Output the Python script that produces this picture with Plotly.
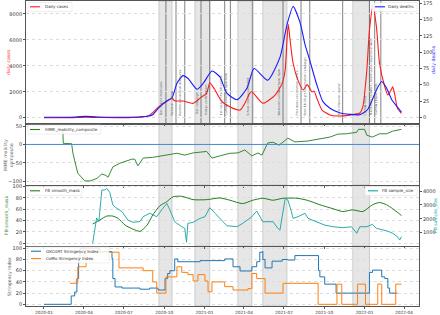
import plotly.graph_objects as go
from plotly.subplots import make_subplots

# ---------------- data ----------------
cases_dates = ['2020-01-01','2020-03-01','2020-04-05','2020-05-10','2020-07-15','2020-08-14','2020-08-29',
 '2020-09-19','2020-10-07','2020-10-19','2020-10-25','2020-11-13','2020-12-06','2020-12-24','2021-01-06',
 '2021-01-13','2021-01-20','2021-01-25','2021-02-10','2021-03-07','2021-03-23','2021-04-03','2021-04-14',
 '2021-04-19','2021-05-14','2021-06-11','2021-06-27','2021-07-04','2021-07-08','2021-07-11','2021-07-15',
 '2021-07-22','2021-08-02','2021-08-14','2021-08-23','2021-09-03','2021-09-08','2021-09-14','2021-09-26',
 '2021-10-14','2021-11-01','2021-11-28','2021-12-21','2021-12-28','2022-01-06','2022-01-12','2022-01-20',
 '2022-01-28','2022-02-04','2022-02-16','2022-02-23','2022-03-04','2022-03-06','2022-03-10','2022-03-17',
 '2022-03-26']
cases = [0,5,40,15,10,50,200,850,1290,1500,1300,1290,1110,1570,1900,2700,2400,2140,1230,720,590,1110,1880,
 2000,1110,1750,2650,3700,6000,7200,6000,4200,2900,2140,2550,2000,2050,1500,590,210,130,200,360,850,3650,
 6740,8600,7020,4200,2390,1750,2260,2390,1900,720,330]

deaths_dates = ['2020-01-01','2020-03-15','2020-04-05','2020-05-01','2020-08-01','2020-08-23','2020-09-05',
 '2020-09-19','2020-10-07','2020-10-19','2020-10-30','2020-11-13','2020-11-24','2020-12-15','2020-12-29',
 '2021-01-18','2021-02-05','2021-02-21','2021-03-16','2021-04-08','2021-04-24','2021-05-25','2021-06-22',
 '2021-07-08','2021-07-22','2021-08-07','2021-08-18','2021-08-27','2021-09-14','2021-09-28','2021-10-14',
 '2021-11-05','2021-11-28','2021-12-21','2022-01-08','2022-01-28','2022-02-09','2022-02-20','2022-03-04',
 '2022-03-26']
deaths = [0,0.5,1.5,0.5,0.5,1.5,4,15,25,30,52,64,60,43,52,71,62,37,27,45,75,57,92,142,170,145,112,92,50,24,
 14,7,4.5,4,12,42,55,45,27,8]

mob_dates = ['2020-02-06','2020-02-13','2020-02-14','2020-03-04','2020-03-07','2020-03-18','2020-04-03',
 '2020-04-15','2020-05-01','2020-05-12','2020-05-21','2020-05-26','2020-06-06','2020-06-22','2020-07-19',
 '2020-07-26','2020-08-02','2020-08-14','2020-09-05','2020-10-07','2020-10-30','2020-11-17','2020-12-06',
 '2021-01-06','2021-01-18','2021-02-05','2021-02-28','2021-03-18','2021-04-03','2021-04-19','2021-05-03',
 '2021-05-12','2021-05-25','2021-06-06','2021-06-20','2021-07-10','2021-07-26','2021-08-23','2021-09-14',
 '2021-10-14','2021-11-01','2021-11-21','2021-12-14','2021-12-18','2022-01-01','2022-01-06','2022-01-19',
 '2022-02-04','2022-02-20','2022-03-06','2022-03-26']
mobility = [40,40,3,2,-24,-78,-99,-99,-92,-80,-84,-89,-61,-51,-40,-40,-58,-37,-35,-29,-24,-29,-23,-19,-37,
 -31,-24,-23,-15,-31,-23,-29,4,6,-2,17,7,9,14,20,28,29,33,41,41,25,20,29,29,36,41]

mask_dates = ['2020-04-21','2020-05-07','2020-05-23','2020-06-06','2020-06-18','2020-07-04','2020-07-22',
 '2020-08-07','2020-08-23','2020-09-05','2020-09-21','2020-10-07','2020-10-21','2020-11-10','2020-12-06',
 '2021-01-06','2021-02-05','2021-02-28','2021-03-29','2021-04-21','2021-05-14','2021-06-06','2021-06-29',
 '2021-07-31','2021-08-23','2021-09-21','2021-10-21','2021-11-12','2021-12-05','2021-12-28','2022-01-19',
 '2022-02-04','2022-02-20','2022-03-06','2022-03-26']
mask = [34,41,48,48,44,32,25,21,32,50,66,73.5,82,83,77,77,80,76,70,76,79.5,76,79.5,79.5,76,68,61,56,59,56,
 68,72,68,61,49]

ss_dates = ['2020-04-21','2020-04-30','2020-05-05','2020-05-12','2020-05-19','2020-05-23','2020-05-30',
 '2020-06-06','2020-06-15','2020-06-27','2020-07-10','2020-07-22','2020-08-07','2020-08-14','2020-08-29',
 '2020-09-14','2020-09-28','2020-10-07','2020-10-14','2020-10-25','2020-11-10','2020-11-17','2020-11-21',
 '2020-11-24','2020-12-06','2020-12-22','2021-01-02','2021-01-13','2021-01-25','2021-02-05','2021-02-21',
 '2021-03-16','2021-03-29','2021-04-19','2021-04-30','2021-05-14','2021-06-06','2021-06-17','2021-06-22',
 '2021-07-04','2021-07-10','2021-07-17','2021-07-22','2021-08-02','2021-08-18','2021-08-25','2021-09-14',
 '2021-10-02','2021-10-21','2021-11-12','2021-12-02','2021-12-14','2021-12-21','2022-01-06','2022-01-19',
 '2022-01-28','2022-02-20','2022-03-06','2022-03-17','2022-03-22','2022-03-26']
sample_size = [240,2060,1800,4070,4070,4190,3900,2990,2750,2510,1910,1750,1800,2150,2400,2150,2750,3110,
 2640,1790,1430,1310,310,1670,1750,2030,2150,2800,2400,2030,1500,1430,1670,2150,2560,1790,1790,1320,1190,
 3470,3350,2630,2030,2150,2400,2030,1790,1550,1430,1360,1430,960,1430,1430,1600,1310,1140,960,710,475,710]

ox_dates = ['2020-01-01','2020-03-03','2020-03-11','2020-03-16','2020-03-20','2020-03-23','2020-05-07',
 '2020-06-04','2020-06-06','2020-06-11','2020-06-27','2020-08-07','2020-08-29','2020-09-17','2020-10-03',
 '2020-10-09','2020-10-14','2020-10-25','2020-11-01','2020-12-22','2021-02-16','2021-03-07','2021-03-23',
 '2021-04-19','2021-04-30','2021-05-07','2021-05-12','2021-05-14','2021-05-19','2021-06-04','2021-06-27',
 '2021-07-10','2021-07-26','2021-09-18','2021-09-21','2021-10-02','2021-10-28','2022-01-12','2022-01-19',
 '2022-02-09','2022-02-16','2022-02-23','2022-02-27','2022-03-17']
oxcgrt = [0,15,22,46,82,100,94,82,46,31,29,27,29,25.5,46,55,60,81,76,78,81,67,59.5,67,76,93,94,80,65,77,80,
 79,87,60,49,36,20,57,61,49,46,29,20,20]

como_dates = ['2020-02-29','2020-03-18','2020-04-06','2020-05-03','2020-06-20','2020-08-14','2020-09-05',
 '2020-09-14','2020-10-05','2020-10-30','2020-11-10','2020-11-24','2020-12-06','2020-12-17','2021-01-02',
 '2021-01-09','2021-01-18','2021-02-16','2021-03-07','2021-04-10','2021-04-19','2021-04-30','2021-05-19',
 '2021-06-29','2021-09-17','2021-10-30','2021-11-10','2021-12-16','2022-01-03','2022-01-31','2022-02-09',
 '2022-03-13','2022-03-26']
como = [37.5,67,100,93,65,60,40,20,49,67,57,53,41.6,53,41.6,22.5,40,31.5,25.5,28,55,46,20,37.5,0,36,0,36,0,
 36,0,36,36]

shade_starts = ['2020-09-19','2020-12-10','2021-03-18','2021-05-14','2021-12-05']
shade_ends = ['2020-10-19','2021-01-13','2021-04-19','2021-07-08','2022-01-12']

event_dates = ['2020-10-05','2020-10-28','2020-11-17','2020-12-24','2021-01-13','2021-02-16','2021-03-01',
 '2021-04-21','2021-06-29','2021-08-09','2021-08-29','2021-11-12','2022-01-12','2022-01-24','2022-02-07']
event_labels = ['Bar closure measures','National curfew','Reinforced national measures','Test campaign',
 '4 days confinement','1st case of the UK variant','Curfew extended 6pm-6am','School closure extended',
 'Weekend curfew at 1pm, 6pm','First mass vaccination centre','Start 18-39 yrs vaccination campaign',
 'First Omicron cluster','Curfew lifted','Mandatory telework, health pass required at work',
 'Curfew (10pm) ends']

# ---------------- layout helpers ----------------
W, H = 440, 315
L, R = 26, 419
def fx(p): return p / W
def fy(p): return 1 - p / H
panels = [(1, 123.5), (123.5, 185), (185.5, 246), (246.5, 306)]
FONT = "DejaVu Sans"
RED, BLUE, GREEN, TEAL = '#ff1a1a', '#1a1aff', '#1f7f1f', '#18a0a0'
OXC, COMO = '#1f77b4', '#ff7f0e'

fig = make_subplots(rows=4, cols=1, shared_xaxes=True, vertical_spacing=0,
                    specs=[[{"secondary_y": True}], [{}], [{"secondary_y": True}], [{}]])

fig.add_trace(go.Scatter(x=cases_dates, y=cases, mode='lines', name='Daily cases',
                         line=dict(color=RED, width=1.1, shape='spline', smoothing=0.6)), row=1, col=1, secondary_y=False)
fig.add_trace(go.Scatter(x=deaths_dates, y=deaths, mode='lines', name='Daily deaths',
                         line=dict(color=BLUE, width=1.1, shape='spline', smoothing=0.6)), row=1, col=1, secondary_y=True)
fig.add_trace(go.Scatter(x=mob_dates, y=mobility, mode='lines', name='IHME_mobility_composite',
                         line=dict(color=GREEN, width=0.9)), row=2, col=1)
fig.add_trace(go.Scatter(x=mask_dates, y=mask, mode='lines', name='FB smooth_mask',
                         line=dict(color=GREEN, width=1.0, shape='spline', smoothing=0.6)), row=3, col=1, secondary_y=False)
fig.add_trace(go.Scatter(x=ss_dates, y=sample_size, mode='lines', name='FB sample_size',
                         line=dict(color=TEAL, width=0.9)), row=3, col=1, secondary_y=True)
fig.add_trace(go.Scatter(x=ox_dates, y=oxcgrt, mode='lines', name='OXCGRT Stringency Index',
                         line=dict(color=OXC, width=1.0, shape='hv')), row=4, col=1)
fig.add_trace(go.Scatter(x=como_dates, y=como, mode='lines', name='CoMo Stringency Index',
                         line=dict(color=COMO, width=1.0, shape='hv')), row=4, col=1)

xr = ['2019-11-21', '2022-05-05']
for r in range(1, 5):
    fig.update_xaxes(row=r, col=1, domain=[fx(L), fx(R)], range=xr, showline=True, mirror=True,
                     linecolor='#555', linewidth=0.8, showgrid=False, zeroline=False, automargin=False,
                     ticks='outside', ticklen=2, tickcolor='#555', tickwidth=0.6,
                     dtick='M3', tick0='2020-01-01', tickformat='%Y-%m', showticklabels=(r == 4),
                     tickfont=dict(size=4.3, color='#333', family=FONT))
    t, b = panels[r - 1]
    fig.update_yaxes(row=r, col=1, secondary_y=False, domain=[fy(b), fy(t)])

ycommon = dict(showline=True, linecolor='#555', linewidth=0.8, zeroline=False, ticks='outside', ticklen=2,
               automargin=False, tickcolor='#555', tickwidth=0.6,
               tickfont=dict(size=5, color='#333', family=FONT))
grid = dict(showgrid=True, gridcolor='#dcdcdc', griddash='dot', gridwidth=0.6)
fig.update_yaxes(row=1, col=1, secondary_y=False, range=[-447, 9002], tickvals=[0, 2000, 4000, 6000, 8000],
                 mirror=True, **ycommon, **grid)
fig.update_yaxes(row=1, col=1, secondary_y=True, range=[-9.5, 178.5], tickvals=list(range(0, 176, 25)),
                 showgrid=False, **ycommon)
fig.update_yaxes(row=2, col=1, range=[-110, 56.8], tickvals=[-100, -50, 0, 50], mirror=True, **ycommon, **grid)
fig.update_yaxes(row=3, col=1, secondary_y=False, range=[-4.8, 102], tickvals=[0, 20, 40, 60, 80, 100],
                 mirror=True, **ycommon, **grid)
fig.update_yaxes(row=3, col=1, secondary_y=True, range=[42, 4396], tickvals=[1000, 2000, 3000, 4000],
                 showgrid=False, **ycommon)
fig.update_yaxes(row=4, col=1, range=[-3.0, 103.2], tickvals=[0, 20, 40, 60, 80, 100], mirror=True,
                 **ycommon, **grid)

# shading in every panel
shapes = []
panel_refs = [('x', 'y domain'), ('x2', 'y3 domain'), ('x3', 'y4 domain'), ('x4', 'y6 domain')]
for xref, yref in panel_refs:
    for s, e in zip(shade_starts, shade_ends):
        shapes.append(dict(type='rect', xref=xref, yref=yref, x0=s, x1=e, y0=0, y1=1, layer='below',
                           fillcolor='#e6e6e6', line=dict(color='#b5b5b5', width=0.6)))
# event lines in top panel
for d in event_dates:
    shapes.append(dict(type='line', xref='x', yref='y domain', x0=d, x1=d, y0=0, y1=1, layer='below',
                       line=dict(color='#4a4a4a', width=0.7)))
# zero line in mobility panel
shapes.append(dict(type='line', xref='x2 domain', yref='y3', x0=0, x1=1, y0=0, y1=0,
                   line=dict(color='#3c8fd4', width=1)))

ann = []
for d, lab in zip(event_dates, event_labels):
    ann.append(dict(x=d, y=0.05, xref='x', yref='y domain', text=lab, textangle=-90, showarrow=False,
                    xanchor='right', yanchor='bottom', xshift=-0.3,
                    font=dict(size=3.1, color='#555', family=FONT)))
titles = [
    ('daily cases', 9, 62, '#ff3b3b'),
    ('daily deaths', 433, 60, '#2a2aff'),
    ('IHME mobility<br>composite', 8, 155, '#555'),
    ('FB smooth_mask', 7, 216, '#2e8b2e'),
    ('FB sample_size', 436, 216, '#20b0b0'),
    ('Stringency Index', 9, 277, '#555'),
]
for txt, px, py, col in titles:
    ann.append(dict(x=fx(px), y=fy(py), xref='paper', yref='paper', text=txt, textangle=-90,
                    showarrow=False, xanchor='center', yanchor='middle',
                    font=dict(size=4.6, color=col, family=FONT)))

# hand-made compact legends (box, key line, label) in pixel positions
LF = 4.1
legend_boxes = [(28, 2.5, 72, 11.5), (372, 2.5, 417, 11.5), (28, 125, 101, 134),
                (28, 186.5, 82, 195.5), (365, 186.5, 417, 195.5), (28, 247, 109, 263)]
# (key x0, key x1, y, label, colour, text anchor side)
legend_items = [(30, 40, 6.8, 'Daily cases', RED, 'left'), (375, 385, 6.8, 'Daily deaths', BLUE, 'right'),
                (30, 40, 129.5, 'IHME_mobility_composite', GREEN, 'left'),
                (30, 40, 190.8, 'FB smooth_mask', GREEN, 'left'),
                (368, 378, 190.8, 'FB sample_size', TEAL, 'right'),
                (31, 41, 251.2, 'OXCGRT Stringency Index', OXC, 'left'),
                (31, 41, 258.6, 'CoMo Stringency Index', COMO, 'left')]
for x0, y0, x1, y1 in legend_boxes:
    shapes.append(dict(type='rect', xref='paper', yref='paper', x0=fx(x0), x1=fx(x1), y0=fy(y1), y1=fy(y0),
                       fillcolor='rgba(255,255,255,0.85)', line=dict(color='#dddddd', width=0.5), layer='above'))
for x0, x1, y, lab, col, side in legend_items:
    shapes.append(dict(type='line', xref='paper', yref='paper', x0=fx(x0), x1=fx(x1), y0=fy(y), y1=fy(y),
                       line=dict(color=col, width=1.1), layer='above'))
    tx, xa = (fx(x1 + 2.5), 'left') if side == 'left' else (fx(415.5), 'right')
    ann.append(dict(x=tx, y=fy(y), xref='paper', yref='paper', text=lab, showarrow=False,
                    xanchor=xa, yanchor='middle', font=dict(size=LF, color='#333', family=FONT)))

fig.update_layout(shapes=shapes, annotations=ann)
fig.update_layout(
    width=W, height=H, margin=dict(l=0, r=0, t=0, b=0, autoexpand=False),
    paper_bgcolor='white', plot_bgcolor='white', showlegend=False,
    font=dict(family=FONT, size=5, color='#333'),
)

fig.write_html("out.html", config={'displayModeBar': False},
               post_script="document.body.style.margin='0';document.body.style.padding='0';"
                           "document.documentElement.style.overflow='hidden';")
